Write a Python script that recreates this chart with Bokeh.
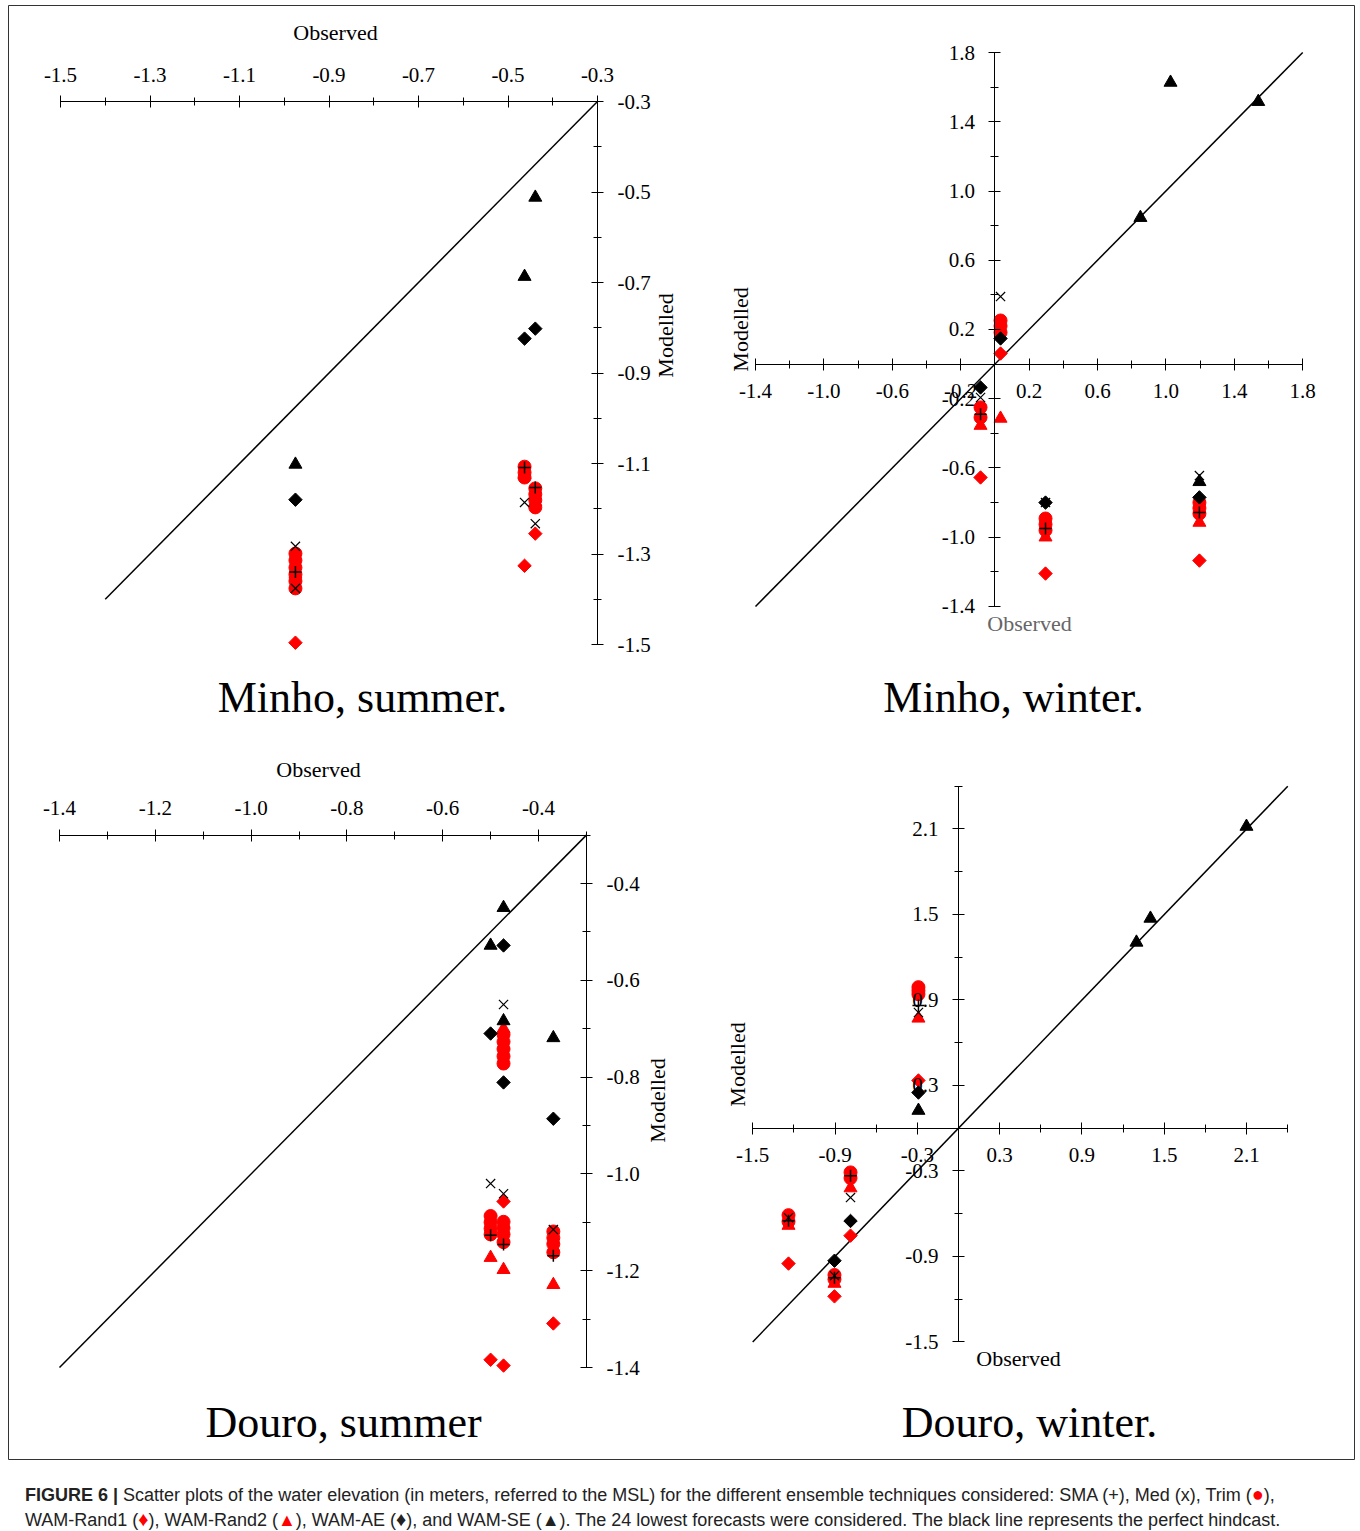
import math
from bokeh.plotting import figure
from bokeh.models import Range1d, LinearAxis, FixedTicker, PrintfTickFormatter, Label, Div
from bokeh.layouts import column
from bokeh.embed import file_html
from bokeh.resources import INLINE

# ================= DATA (observed x, modelled y, metres) =================
# --- Minho, summer ---
MS_SE_X = [-0.975, -0.439, -0.463]
MS_SE_Y = [-1.102, -0.512, -0.687]
MS_AE_X = [-0.975, -0.463, -0.439]
MS_AE_Y = [-1.180, -0.824, -0.802]
MS_MED_X = [-0.975, -0.975, -0.463, -0.439]
MS_MED_Y = [-1.283, -1.376, -1.186, -1.233]
MS_SMA_X = [-0.975, -0.463, -0.439]
MS_SMA_Y = [-1.340, -1.109, -1.153]
MS_TRIM_X = [-0.975, -0.975, -0.975, -0.975, -0.975, -0.975,
             -0.463, -0.463, -0.463, -0.439, -0.439, -0.439, -0.439]
MS_TRIM_Y = [-1.299, -1.314, -1.330, -1.345, -1.360, -1.376,
             -1.107, -1.120, -1.131, -1.155, -1.168, -1.181, -1.197]
MS_R1_X = [-0.975, -0.439, -0.463]
MS_R1_Y = [-1.496, -1.255, -1.326]
MS_R2_X = [-0.975, -0.463, -0.439]
MS_R2_Y = [-1.345, -1.125, -1.185]

# --- Minho, winter ---
MW_SE_X = [1.027, 1.540, 0.851, 1.196]
MW_SE_Y = [1.627, 1.516, 0.846, -0.680]
MW_AE_X = [0.033, -0.084, 0.296, 1.196]
MW_AE_Y = [0.148, -0.135, -0.800, -0.770]
MW_MED_X = [0.033, -0.084, 0.296, 1.196]
MW_MED_Y = [0.390, -0.193, -0.800, -0.644]
MW_SMA_X = [-0.084, 0.296, 1.196]
MW_SMA_Y = [-0.290, -0.950, -0.857]
MW_TRIM_X = [0.033, 0.033, 0.033, -0.084, -0.084, 0.296, 0.296, 0.296, 1.196, 1.196, 1.196]
MW_TRIM_Y = [0.252, 0.220, 0.183, -0.250, -0.308, -0.892, -0.926, -0.960, -0.800, -0.832, -0.864]
MW_R1_X = [0.033, -0.084, 0.296, 1.196]
MW_R1_Y = [0.061, -0.655, -1.210, -1.135]
MW_R2_X = [0.033, -0.084, 0.296, 1.196]
MW_R2_Y = [-0.314, -0.355, -1.000, -0.915]

# --- Douro, summer ---
DS_SE_X = [-0.473, -0.500, -0.473, -0.369]
DS_SE_Y = [-0.450, -0.528, -0.684, -0.719]
DS_AE_X = [-0.473, -0.500, -0.473, -0.369]
DS_AE_Y = [-0.528, -0.710, -0.811, -0.886]
DS_MED_X = [-0.473, -0.500, -0.473, -0.369]
DS_MED_Y = [-0.650, -1.020, -1.041, -1.115]
DS_SMA_X = [-0.500, -0.473, -0.369]
DS_SMA_Y = [-1.127, -1.146, -1.169]
DS_TRIM_X = [-0.473, -0.473, -0.473, -0.473, -0.473,
             -0.500, -0.500, -0.500, -0.500,
             -0.473, -0.473, -0.473, -0.473,
             -0.369, -0.369, -0.369, -0.369]
DS_TRIM_Y = [-0.712, -0.727, -0.742, -0.757, -0.772,
             -1.087, -1.100, -1.113, -1.125,
             -1.099, -1.112, -1.125, -1.141,
             -1.119, -1.132, -1.145, -1.162]
DS_R1_X = [-0.473, -0.369, -0.500, -0.473]
DS_R1_Y = [-1.057, -1.309, -1.384, -1.396]
DS_R2_X = [-0.473, -0.500, -0.473, -0.369]
DS_R2_Y = [-0.700, -1.173, -1.198, -1.229]

# --- Douro, winter ---
DW_SE_X = [2.099, 1.399, 1.297, -0.292]
DW_SE_Y = [2.117, 1.472, 1.304, 0.124]
DW_AE_X = [-0.292, -0.787, -0.904]
DW_AE_Y = [0.250, -0.651, -0.930]
DW_MED_X = [-0.292, -0.787, -1.239, -0.904]
DW_MED_Y = [0.812, -0.487, -0.628, -1.035]
DW_SMA_X = [-0.292, -0.787, -1.239, -0.904]
DW_SMA_Y = [0.861, -0.333, -0.650, -1.050]
DW_TRIM_X = [-0.292, -0.292, -0.292, -0.787, -0.787, -1.239, -1.239, -0.904, -0.904]
DW_TRIM_Y = [0.990, 0.965, 0.940, -0.310, -0.350, -0.610, -0.655, -1.030, -1.060]
DW_R1_X = [-0.292, -0.787, -1.239, -0.904]
DW_R1_Y = [0.335, -0.754, -0.950, -1.180]
DW_R2_X = [-0.292, -0.787, -1.239, -0.904]
DW_R2_Y = [0.771, -0.420, -0.683, -1.090]

# --- axis ticks / perfect-hindcast line extents ---
MS_MAJOR = [-1.5, -1.3, -1.1, -0.9, -0.7, -0.5, -0.3]
MS_MINOR = [-1.4, -1.2, -1.0, -0.8, -0.6, -0.4]
MS_LINE = [-1.4, -0.3]
MW_MAJOR = [-1.4, -1.0, -0.6, -0.2, 0.2, 0.6, 1.0, 1.4, 1.8]
MW_MINOR = [-1.2, -0.8, -0.4, 0.0, 0.4, 0.8, 1.2, 1.6]
MW_LINE = [-1.4, 1.8]
DS_MAJOR = [-1.4, -1.2, -1.0, -0.8, -0.6, -0.4]
DS_MINOR = [-1.3, -1.1, -0.9, -0.7, -0.5, -0.3]
DS_LINE = [-1.4, -0.3]
DW_MAJOR = [-1.5, -0.9, -0.3, 0.3, 0.9, 1.5, 2.1]
DW_MINOR = [-1.2, -0.6, 0.0, 0.6, 1.2, 1.8, 2.4]
DW_LINE = [-1.5, 2.4]

TITLES = ["Minho, summer.", "Minho, winter.", "Douro, summer", "Douro, winter."]

# ================= LAYOUT =================
FL, FT, FW, FH = 8, 5, 1347, 1455   # frame position on page (px)
# page-pixel mapping of each panel: pixel of reference value and px per unit
PANELS = {
    "default": dict(px0=60.0, x0=-1.5, sx=447.5, py0=101.0, y0=-0.3, sy=452.5),
    "mw": dict(px0=994.4, x0=0.0, sx=171.0, py0=363.6, y0=0.0, sy=173.1),
    "ds": dict(px0=59.0, x0=-1.4, sx=479.0, py0=834.6, y0=-0.3, sy=484.0),
    "dw": dict(px0=958.0, x0=0.0, sx=137.2, py0=1127.7, y0=0.0, sy=142.5),
}


def ranges(k):
    c = PANELS[k]
    xs = c["x0"] + (FL - c["px0"]) / c["sx"]
    xe = c["x0"] + (FL + FW - c["px0"]) / c["sx"]
    ys = c["y0"] - (FT + FH - c["py0"]) / c["sy"]
    ye = c["y0"] + (c["py0"] - FT) / c["sy"]
    return Range1d(xs, xe), Range1d(ys, ye)


def dx(k, px):
    c = PANELS[k]
    return c["x0"] + (px - c["px0"]) / c["sx"]


def dy(k, py):
    c = PANELS[k]
    return c["y0"] - (py - c["py0"]) / c["sy"]


xr, yr = ranges("default")
p = figure(width=FW, height=FH, x_range=xr, y_range=yr, x_axis_type=None, y_axis_type=None,
           toolbar_location=None, output_backend="svg", min_border=0, title=None,
           outline_line_color="#333333", outline_line_width=1,
           background_fill_color="white", border_fill_color="white")
for k in ["mw", "ds", "dw"]:
    a, b = ranges(k)
    p.extra_x_ranges[k] = a
    p.extra_y_ranges[k] = b

SERIF = "Liberation Serif"


def add_axis(k, side, fixed, major, minor, lo, hi):
    ax = LinearAxis(x_range_name=k, y_range_name=k, fixed_location=fixed, bounds=(lo, hi),
                    ticker=FixedTicker(ticks=major, minor_ticks=minor),
                    formatter=PrintfTickFormatter(format="%.1f"),
                    axis_line_color="black", axis_line_width=1,
                    major_tick_line_color="black", minor_tick_line_color="black",
                    major_tick_in=6, major_tick_out=6, minor_tick_in=4, minor_tick_out=4,
                    major_label_text_font=SERIF, major_label_text_font_size="21px",
                    major_label_text_color="black", major_label_standoff=14)
    p.add_layout(ax, side)


add_axis("default", "above", -0.3, MS_MAJOR, MS_MINOR, -1.5, -0.3)
add_axis("default", "right", -0.3, MS_MAJOR, MS_MINOR, -1.5, -0.3)
add_axis("mw", "below", 0.0, MW_MAJOR, MW_MINOR, -1.4, 1.8)
add_axis("mw", "left", 0.0, MW_MAJOR, MW_MINOR, -1.4, 1.8)
add_axis("ds", "above", -0.3, DS_MAJOR, DS_MINOR, -1.4, -0.3)
add_axis("ds", "right", -0.3, DS_MAJOR, DS_MINOR, -1.4, -0.3)
add_axis("dw", "below", 0.0, DW_MAJOR, DW_MINOR, -1.5, 2.4)
add_axis("dw", "left", 0.0, DW_MAJOR, DW_MINOR, -1.5, 2.4)

RED = "#ff0000"


def panel(k, line, se, ae, med, sma, trim, r1, r2):
    kw = dict(x_range_name=k, y_range_name=k)
    p.line(line, line, line_color="black", line_width=1.5, **kw)
    p.scatter(r2[0], r2[1], marker="triangle", size=13, color=RED, **kw)
    p.scatter(trim[0], trim[1], marker="circle", size=13, color=RED, **kw)
    p.scatter(r1[0], r1[1], marker="square", angle=math.pi / 4, size=9.5, color=RED, **kw)
    p.scatter(ae[0], ae[1], marker="square", angle=math.pi / 4, size=9.5, color="black", **kw)
    p.scatter(se[0], se[1], marker="triangle", size=13, color="black", **kw)
    p.scatter(med[0], med[1], marker="x", size=13, line_color="black", line_width=1.2, **kw)
    p.scatter(sma[0], sma[1], marker="cross", size=12, line_color="black", line_width=1.5, **kw)


panel("default", MS_LINE, (MS_SE_X, MS_SE_Y), (MS_AE_X, MS_AE_Y), (MS_MED_X, MS_MED_Y),
      (MS_SMA_X, MS_SMA_Y), (MS_TRIM_X, MS_TRIM_Y), (MS_R1_X, MS_R1_Y), (MS_R2_X, MS_R2_Y))
panel("mw", MW_LINE, (MW_SE_X, MW_SE_Y), (MW_AE_X, MW_AE_Y), (MW_MED_X, MW_MED_Y),
      (MW_SMA_X, MW_SMA_Y), (MW_TRIM_X, MW_TRIM_Y), (MW_R1_X, MW_R1_Y), (MW_R2_X, MW_R2_Y))
panel("ds", DS_LINE, (DS_SE_X, DS_SE_Y), (DS_AE_X, DS_AE_Y), (DS_MED_X, DS_MED_Y),
      (DS_SMA_X, DS_SMA_Y), (DS_TRIM_X, DS_TRIM_Y), (DS_R1_X, DS_R1_Y), (DS_R2_X, DS_R2_Y))
panel("dw", DW_LINE, (DW_SE_X, DW_SE_Y), (DW_AE_X, DW_AE_Y), (DW_MED_X, DW_MED_Y),
      (DW_SMA_X, DW_SMA_Y), (DW_TRIM_X, DW_TRIM_Y), (DW_R1_X, DW_R1_Y), (DW_R2_X, DW_R2_Y))


def label(k, px, py, text, size="22px", angle=0.0, color="black"):
    p.add_layout(Label(x=dx(k, px), y=dy(k, py), x_range_name=k, y_range_name=k, text=text,
                       text_font=SERIF, text_font_size=size, text_color=color, angle=angle,
                       text_align="center", text_baseline="middle"))


# axis titles
label("default", 335, 32, "Observed")
label("default", 665, 335, "Modelled", angle=math.pi / 2)
label("mw", 740, 329, "Modelled", angle=math.pi / 2)
label("mw", 1029, 623, "Observed", color="#666666")
label("ds", 318, 769, "Observed")
label("ds", 657, 1100, "Modelled", angle=math.pi / 2)
label("dw", 737, 1064, "Modelled", angle=math.pi / 2)
label("dw", 1018, 1358, "Observed")
# panel titles
label("default", 362, 697, TITLES[0], size="44px")
label("mw", 1013, 697, TITLES[1], size="44px")
label("ds", 343, 1422, TITLES[2], size="44px")
label("dw", 1029, 1422, TITLES[3], size="44px")

caption_html = (
    '<div style="font-family:\'Liberation Sans\',Arial,sans-serif;font-size:18px;'
    'line-height:24px;color:#222;padding:17px 0 0 12px;height:70px;box-sizing:border-box;'
    'overflow:hidden;white-space:nowrap;">'
    '<b>FIGURE 6 |</b> Scatter plots of the water elevation (in meters, referred to the MSL) '
    'for the different ensemble techniques considered: SMA (+), Med (x), Trim '
    '(<span style="color:#ff0000;font-size:20px">&#9679;</span>),<br>'
    'WAM-Rand1 (<span style="color:#ff0000;font-size:20px">&#9830;</span>), WAM-Rand2 '
    '(<span style="color:#ff0000">&#9650;</span>), WAM-AE (<span style="font-size:20px">&#9830;</span>), '
    'and WAM-SE (&#9650;). '
    'The 24 lowest forecasts were considered. The black line represents the perfect hindcast.'
    '</div>'
)
cap = Div(text=caption_html, width=FW, height=70)

layout = column(p, cap, spacing=0, margin=(FT, 0, 0, FL))
open("out.html", "w").write(file_html(layout, INLINE))
